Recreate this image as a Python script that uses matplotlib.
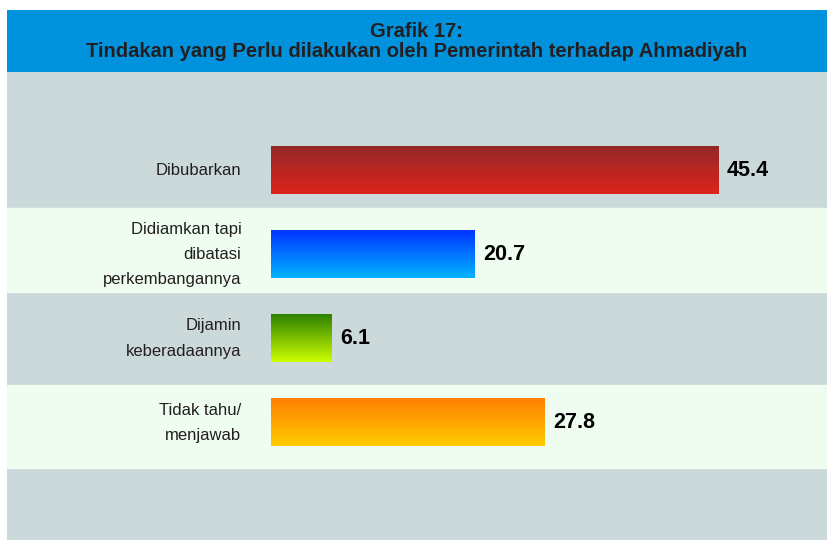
import numpy as np
import matplotlib.pyplot as plt
from matplotlib.colors import LinearSegmentedColormap

# data
categories = ["Dibubarkan", "Didiamkan tapi\ndibatasi\nperkembangannya",
              "Dijamin\nkeberadaannya", "Tidak tahu/\nmenjawab"]
values = [45.4, 20.7, 6.1, 27.8]
value_labels = ["45.4", "20.7", "6.1", "27.8"]
title_lines = ["Grafik 17:", "Tindakan yang Perlu dilakukan oleh Pemerintah terhadap Ahmadiyah"]

# gradient colours (top, bottom) per bar
grads = [("#952828", "#DC241C"), ("#0033FF", "#00B4FF"),
         ("#2E8000", "#CCFF00"), ("#FF8000", "#FFCC00")]

W, H = 827, 540
fig = plt.figure(figsize=(W / 100, H / 100), dpi=100)
fig.patch.set_facecolor("white")

fam = ["Liberation Sans", "DejaVu Sans"]

# header
hdr = fig.add_axes([7 / W, 1 - 72 / H, 820 / W, 62 / H])
hdr.set_facecolor("#0092DC")
hdr.set_xticks([]); hdr.set_yticks([])
for s in hdr.spines.values():
    s.set_visible(False)
hdr.text(0.5, 0.66, title_lines[0], ha="center", va="center", fontsize=14.5,
         fontweight="bold", color="#231F20", family=fam, transform=hdr.transAxes)
hdr.text(0.5, 0.33, title_lines[1], ha="center", va="center", fontsize=14.5,
         fontweight="bold", color="#231F20", family=fam, transform=hdr.transAxes)

# main panel
ax = fig.add_axes([7 / W, 0, 820 / W, 468 / H])
ax.set_facecolor("#CBD9DA")
for s in ax.spines.values():
    s.set_visible(False)
ax.set_xticks([]); ax.set_yticks([])

# alternating bands
ax.axhspan(0.45, 1.45, color="#EEFDF0", zorder=0)
ax.axhspan(2.55, 3.53, color="#EEFDF0", zorder=0)

ypos = np.arange(len(values))
bars = ax.barh(ypos, values, height=0.56, color="none", zorder=2)

for bar, (top, bot) in zip(bars, grads):
    cmap = LinearSegmentedColormap.from_list("g", [top, bot])
    x0, y0 = bar.get_x(), bar.get_y()
    w, h = bar.get_width(), bar.get_height()
    grad = np.linspace(0, 1, 256).reshape(-1, 1)
    ax.imshow(grad, cmap=cmap, aspect="auto", extent=(x0, x0 + w, y0 + h, y0),
              origin="upper", zorder=2)

ax.set_xlim(-26.8, 56.45)
ax.set_ylim(4.39, -1.163)

for y, v, lab, cat in zip(ypos, values, value_labels, categories):
    ax.text(v + 0.9, y, lab, ha="left", va="center", fontsize=15.5,
            fontweight="bold", color="black", family=fam)
    ax.text(-3.0, y, cat, ha="right", va="center", fontsize=12,
            color="#231F20", family=fam, linespacing=1.85)

fig.savefig("out.png", dpi=100)
